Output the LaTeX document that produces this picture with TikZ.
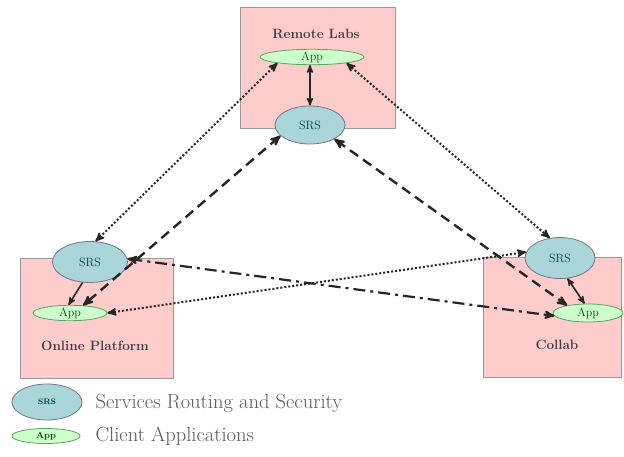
\documentclass[tikz,border=0pt]{standalone}
\usetikzlibrary{arrows,shapes.geometric}

\definecolor{sitepink}{RGB}{255,204,204}
\definecolor{srsblue}{RGB}{170,214,218}
\definecolor{appgreen}{RGB}{204,255,204}

\begin{document}
\begin{tikzpicture}[x=1pt,y=-1pt,>=stealth',
  site/.style={draw=gray!80,fill=sitepink,thick},
  sitelabel/.style={font=\fontsize{13.5}{15}\selectfont\bfseries,text=black!75},
  srs/.style={ellipse,draw=gray!90!blue,fill=srsblue,thick,minimum width=70pt,minimum height=38pt,inner sep=0pt,font=\fontsize{12}{13}\selectfont,text=teal!50!black},
  app/.style={ellipse,draw=green!30!gray,fill=appgreen,thick,minimum height=15pt,inner sep=0pt,font=\fontsize{12}{13}\selectfont,text=green!35!black},
  legendtext/.style={anchor=west,font=\fontsize{20.5}{22}\selectfont,text=black!65},
  dotlink/.style={<->,line width=2pt,dash pattern=on 2pt off 2pt,black!85},
  dashlink/.style={<->,line width=2.4pt,dash pattern=on 10pt off 6pt,black!85},
  dashdotlink/.style={<->,line width=2.2pt,dash pattern=on 12pt off 5pt on 3pt off 5pt,black!85},
  solidlink/.style={line width=1.6pt,black!85}]

\useasboundingbox (0,0) rectangle (624,456);

% sites
\fill[white] (0,0) rectangle (624,456);
\draw[site] (240,7) rectangle (395,128);
\draw[site] (20,258) rectangle (173,378);
\draw[site] (483,257) rectangle (621,377);

\node[sitelabel] (rltxt) at (316,34) {Remote Labs};
\node[sitelabel] (optxt) at (95,346) {Online Platform};
\node[sitelabel] (cltxt) at (557,345) {Collab};

% routing and apps
\node[app,minimum width=104pt] (rlapp) at (312,57) {App};
\node[srs] (rlsrs) at (310,125) {SRS};
\node[srs,minimum width=75pt,minimum height=41pt] (opsrs) at (90,262) {SRS};
\node[app,minimum width=74pt] (opapp) at (70,313) {App};
\node[srs,minimum height=41pt] (clsrs) at (560,258) {SRS};
\node[app,minimum width=70pt,minimum height=18pt] (clapp) at (588,313) {App};

% links
\draw[solidlink,<->] (rlsrs.north |- rlapp.south) -- (rlsrs.north);
\draw[solidlink,->] (opsrs.250) -- (opapp.100);
\draw[solidlink,<->] (clsrs.290) -- (clapp.110);

\draw[dotlink] (rlapp.190) -- (opsrs.75);
\draw[dotlink] (rlapp.350) -- (clsrs.117);
\draw[dotlink] (opapp.east) -- (clsrs.170);

\draw[dashlink] (rlsrs.200) -- (opapp.30);
\draw[dashlink] (rlsrs.330) -- (clapp.160);

\draw[dashdotlink] (opsrs.5) -- (clapp.185);

% legend
\node[srs,minimum width=70pt,minimum height=36pt,font=\fontsize{8}{9}\selectfont\bfseries] (legsrs) at (47,402) {SRS};
\node[legendtext] (legsrstxt) at (92,403) {Services Routing and Security};
\node[app,minimum width=68pt,font=\fontsize{9}{10}\selectfont\bfseries] (legapp) at (46,436) {App};
\node[legendtext] (legapptxt) at (92,436) {Client Applications};

\end{tikzpicture}
\end{document}
